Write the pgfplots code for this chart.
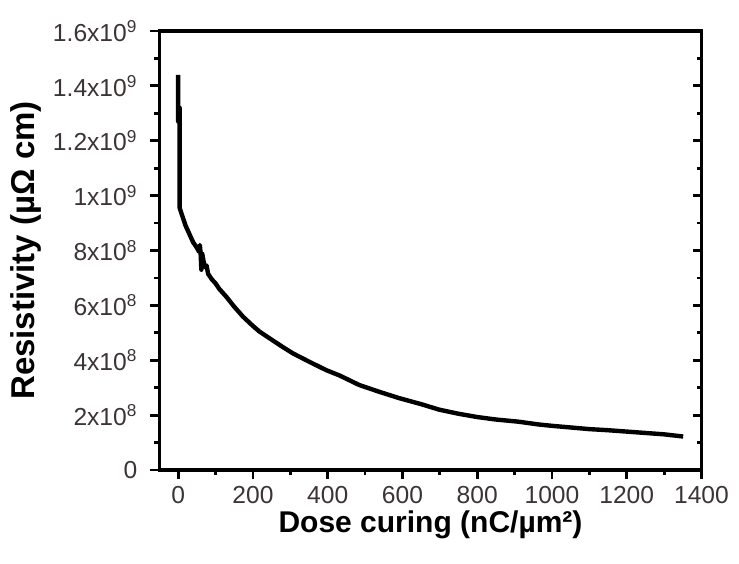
\documentclass[border=0pt]{standalone}
\usepackage{pgfplots}
\pgfplotsset{compat=1.18}
\usepackage{fontspec}
\setmainfont{Liberation Sans}
\definecolor{ticktxt}{RGB}{60,52,52}
\begin{document}
\begin{tikzpicture}
\begin{axis}[
  scale only axis,
  width=271pt, height=219.5pt,
  xmin=-50, xmax=1400, ymin=0, ymax=16,
  xtick={0,200,...,1400},
  minor xtick={100,300,...,1300},
  ytick={0,2,...,16},
  minor ytick={1,3,...,15},
  yticklabels={0,2x10\textsuperscript{8},4x10\textsuperscript{8},6x10\textsuperscript{8},8x10\textsuperscript{8},1x10\textsuperscript{9},1.2x10\textsuperscript{9},1.4x10\textsuperscript{9},1.6x10\textsuperscript{9}},
  tick align=outside,
  xtick pos=bottom, ytick pos=left,
  major tick length=4.5pt, minor tick length=2.5pt,
  every tick/.style={line width=1.4pt, black},
  axis line style={line width=1.6pt},
  /pgf/number format/assume math mode=true,
  /pgf/number format/1000 sep={},
  ticklabel style={font=\fontsize{12.3pt}{14pt}\selectfont, text=ticktxt},
  yticklabel style={xshift=-3pt},
  xticklabel style={yshift=0pt},
  xlabel={\textbf{Dose curing (nC/µm²)}},
  ylabel={\textbf{Resistivity (µΩ cm)}},
  xlabel style={font=\fontsize{15pt}{17pt}\selectfont, yshift=3pt},
  ylabel style={font=\fontsize{16.5pt}{18pt}\selectfont, yshift=-1pt},
]
\addplot[black, line width=2.2pt, line join=round] coordinates {
(0,14.4) (0,12.7) (2,12.7) (2,13.2) (4,13.2) (4,9.55)
(10,9.3) (20,8.9) (30,8.6) (40,8.3) (50,8.1) (56,7.95) (58,8.2) (60,7.9) (62,7.3) (64,7.9) (68,7.6) (72,7.4) (76,7.45)
(80,7.15) (90,6.95) (100,6.8) (110,6.6) (129,6.31) (150,5.95) (174,5.58) (200,5.25) (218,5.04)
(250,4.75) (280,4.48) (307,4.25) (350,3.95) (396,3.64) (431,3.45) (484,3.1) (538,2.85) (591,2.62)
(650,2.4) (698,2.2) (750,2.05) (800,1.93) (850,1.84) (911,1.76) (964,1.66) (1000,1.61) (1050,1.55)
(1100,1.49) (1150,1.45) (1200,1.40) (1250,1.35) (1300,1.30) (1351,1.22)
};
\end{axis}
\begin{axis}[
  scale only axis,
  width=271pt, height=219.5pt,
  xmin=-50, xmax=1400, ymin=0, ymax=16,
  hide x axis,
  axis y line*=right,
  ytick={0,2,...,16}, minor ytick={1,3,...,15},
  yticklabels={}, tick align=inside,
  major tick length=4.5pt, minor tick length=2.5pt,
  every tick/.style={line width=1.4pt, black},
  axis line style={line width=1.6pt},
]
\end{axis}
\path (-79.75pt,-46.5pt) rectangle (289.75pt,235pt);
\end{tikzpicture}
\end{document}
